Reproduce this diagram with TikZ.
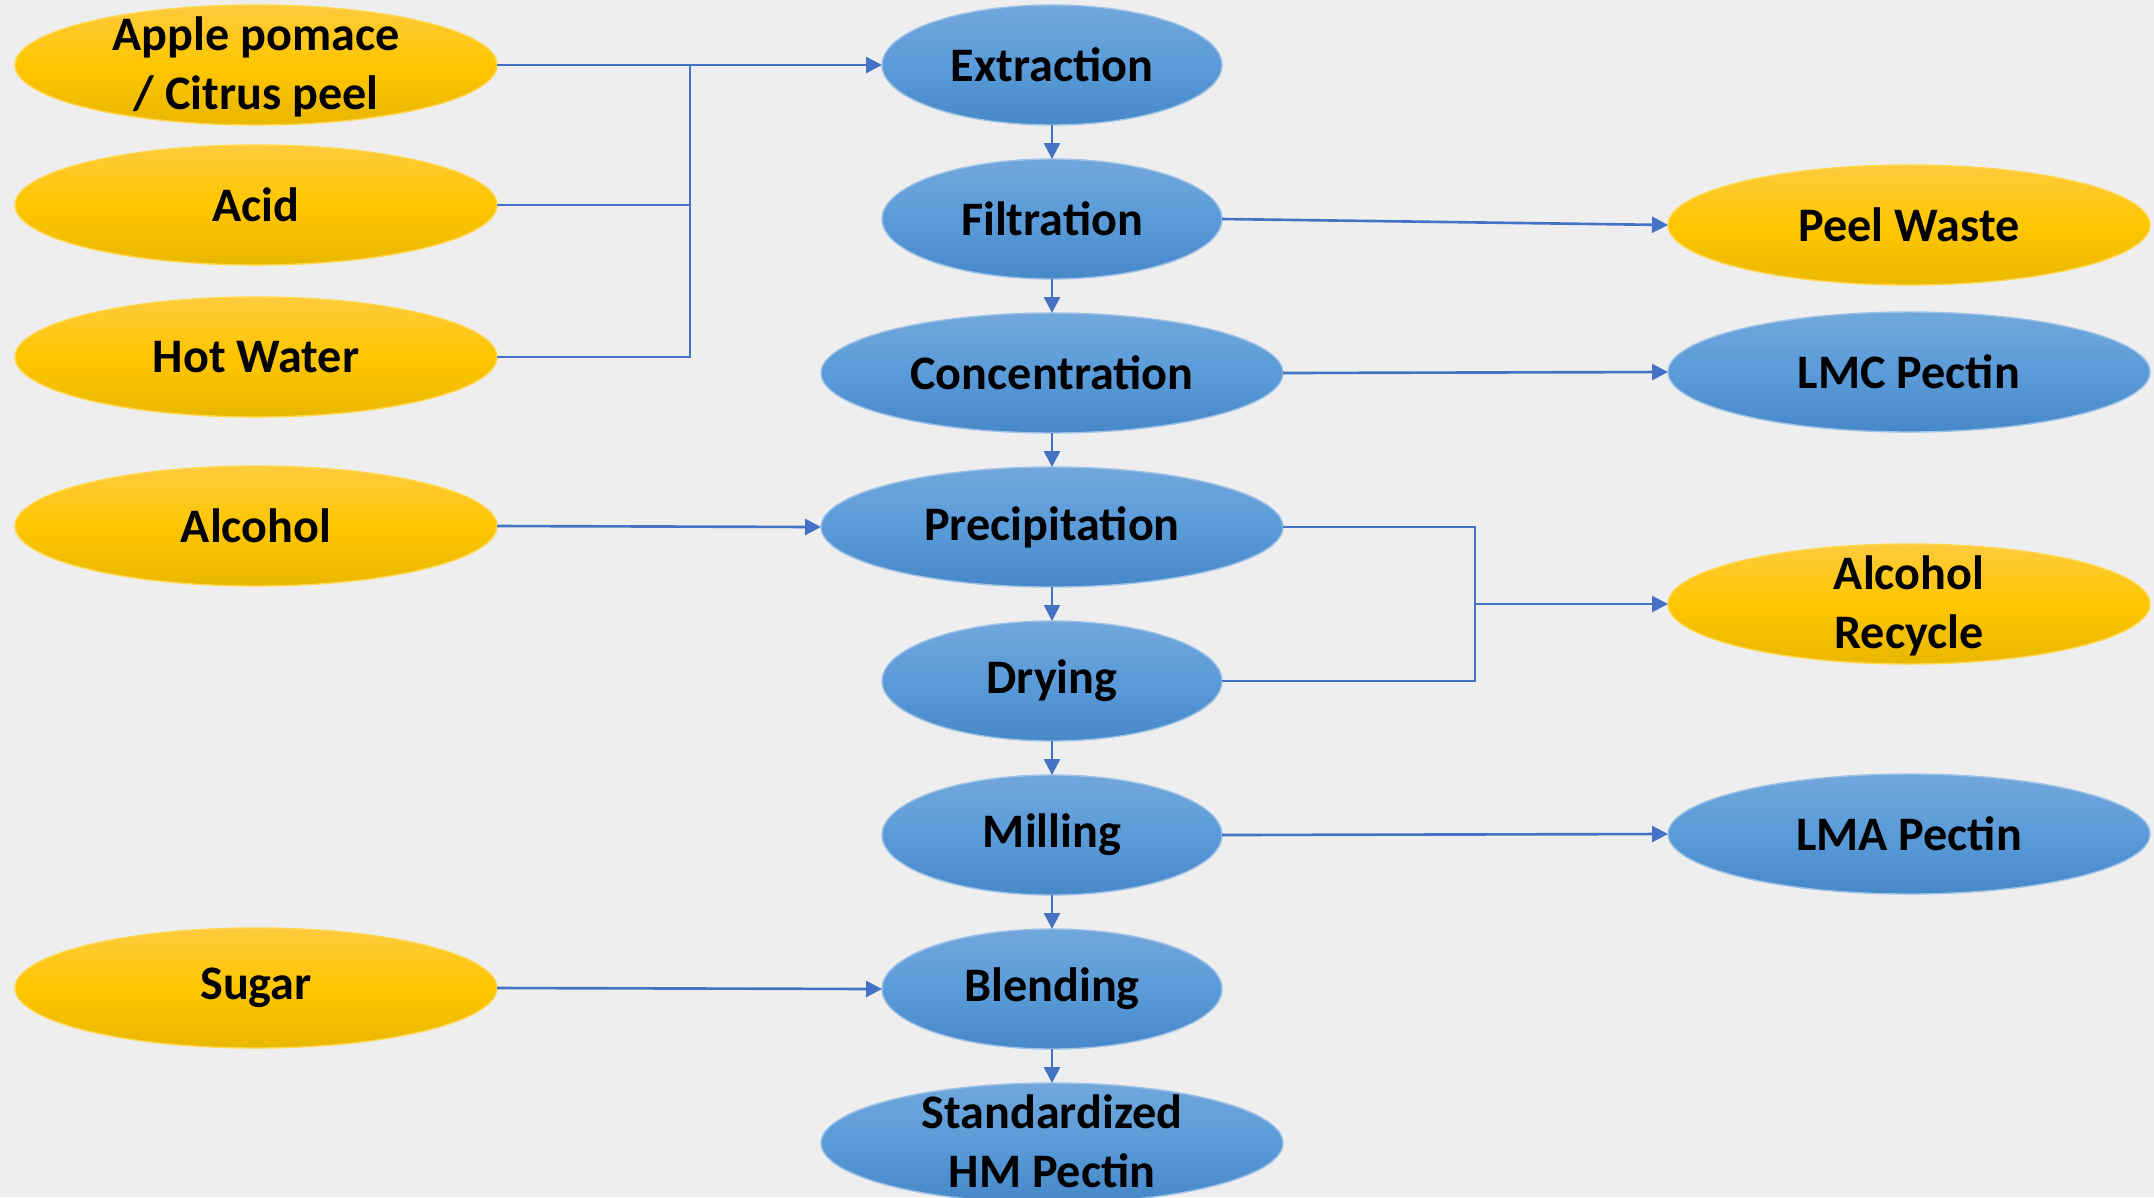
\documentclass[tikz,border=0pt]{standalone}
\usepackage{fontspec}
\setmainfont{Carlito}
\usepackage{tikz}
\usetikzlibrary{shapes.geometric,arrows.meta}

\definecolor{bgcol}{HTML}{EEEEEE}
\definecolor{flowcol}{HTML}{4472C4}
\definecolor{ytop}{HTML}{FFCA3E}
\definecolor{ymid}{HTML}{FFC600}
\definecolor{ybot}{HTML}{E9B700}
\definecolor{btop}{HTML}{71A7DC}
\definecolor{bmid}{HTML}{5A9BD9}
\definecolor{bbot}{HTML}{4688C8}

\newcommand{\twolines}[2]{\raisebox{-4.6pt}[0pt][0pt]{\begin{tabular}{@{}c@{}}#1\\#2\end{tabular}}}

\begin{document}
\begin{tikzpicture}[node distance=1.54cm,
    every node/.style={font=\bfseries\fontsize{13.7}{16.7}\selectfont},
    feed/.style={ellipse, top color=ytop, bottom color=ybot, middle color=ymid, draw=ymid!70!white, line width=0.4pt, minimum width=4.82cm, minimum height=1.2cm, inner sep=0pt, outer sep=0pt},
    stage/.style={ellipse, top color=btop, bottom color=bbot, middle color=bmid, draw=btop!70!white, line width=0.4pt, minimum width=3.4cm, minimum height=1.2cm, inner sep=0pt, outer sep=0pt},
    widestage/.style={stage, minimum width=4.62cm},
    outstage/.style={stage, minimum width=4.82cm},
    flow/.style={draw=flowcol, line width=0.75pt, -{Triangle[length=1.6mm,width=1.6mm]}},
    link/.style={draw=flowcol, line width=0.75pt}]

    % Canvas
    \useasboundingbox (0,0) rectangle (21.54,-11.97);
    \clip (0,0) rectangle (21.54,-11.97);
    \fill[bgcol] (0,0) rectangle (21.54,-11.97);

    % Main line
    \node[stage] (extraction) at (10.52,-0.65) {Extraction};
    \node[stage, below of=extraction] (filtration) {Filtration};
    \node[widestage, below of=filtration] (concentration) {Concentration};
    \node[widestage, below of=concentration] (precipitation) {Precipitation};
    \node[stage, below of=precipitation] (drying) {Drying};
    \node[stage, below of=drying] (milling) {Milling};
    \node[stage, below of=milling] (blending) {Blending};
    \node[widestage, below of=blending] (hmpectin) {\twolines{Standardized}{HM Pectin}};

    % Inputs
    \node[feed] (pomace) at (2.56,-0.65) {\twolines{Apple pomace}{/ Citrus peel}};
    \node[feed] (acid) at (2.56,-2.05) {Acid};
    \node[feed] (hotwater) at (2.56,-3.57) {Hot Water};
    \node[feed] (alcohol) at (2.56,-5.26) {Alcohol};
    \node[feed] (sugar) at (2.56,-9.88) {Sugar};

    % Outputs
    \node[feed] (peelwaste) at (19.09,-2.25) {Peel Waste};
    \node[outstage] (lmc) at (19.09,-3.72) {LMC Pectin};
    \node[feed] (recycle) at (19.09,-6.04) {\twolines{Alcohol}{Recycle}};
    \node[outstage] (lma) at (19.09,-8.34) {LMA Pectin};

    % Arrows down
    \foreach \a/\b in {extraction/filtration, filtration/concentration, concentration/precipitation, precipitation/drying, drying/milling, milling/blending, blending/hmpectin}
        \draw[flow] (\a.south) -- (\b.north);

    % Feed lines
    \coordinate (jin) at (6.90,-0.65);
    \draw[flow] (pomace.east) -- (extraction.west);
    \draw[link] (acid.east) -| (jin);
    \draw[link] (hotwater.east) -| (jin);
    \draw[flow] (alcohol.east) -- (precipitation.west);
    \draw[flow] (sugar.east) -- (blending.west);

    % Output lines
    \draw[flow] (filtration.east) -- (peelwaste.west);
    \draw[flow] (concentration.east) -- (lmc.west);
    \coordinate (jout) at (14.75,-6.04);
    \draw[link] (precipitation.east) -| (jout);
    \draw[link] (drying.east) -| (jout);
    \draw[flow] (jout) -- (recycle.west);
    \draw[flow] (milling.east) -- (lma.west);
\end{tikzpicture}
\end{document}
